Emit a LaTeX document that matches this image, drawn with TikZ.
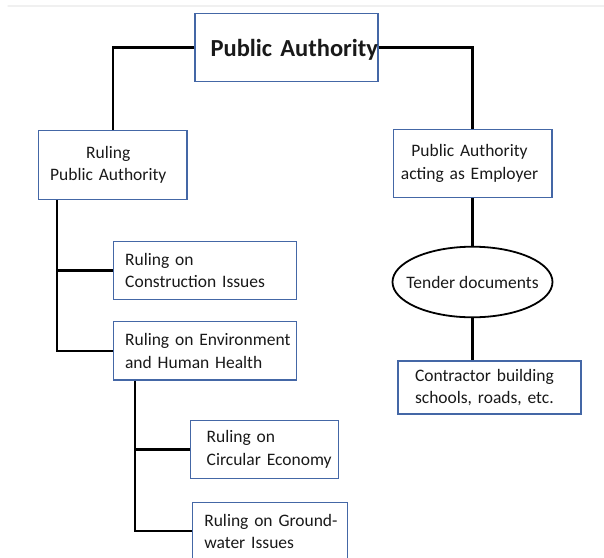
\documentclass[tikz,border=0pt]{standalone}
\usepackage{fontspec}
\setmainfont{Carlito}
\usetikzlibrary{shapes.geometric, calc, positioning}
\definecolor{boxblue}{RGB}{68,103,166}

\begin{document}
\begin{tikzpicture}[x=1pt,y=-1pt,line cap=round,
        box/.style={draw=boxblue,line width=1.4pt,inner ysep=0pt,text=black!90,
                    font=\fontsize{17.5}{22.5}\selectfont},
        lbox/.style n args={2}{box,align=left,inner xsep=0pt,text width=#1,
                    execute at begin node={\leftskip=#2\relax}},
        cbox/.style={box,align=center,inner xsep=0pt,
                    execute at begin node={\advance\rightskip by #1\relax}},
        link/.style={draw=black,line width=2.2pt,line cap=butt}]

                \useasboundingbox (0,0) rectangle (604,557);
                \draw[gray!12,line width=1.5pt] (8,6) -- (604,6);

                \node[box,inner xsep=0pt,text width=183pt,minimum height=68pt,align=right,text depth=0pt,
                      font=\fontsize{24.5}{28}\bfseries] (pa) at (286.5,47.5) {Public Authority};

                \node[cbox=9pt,text width=148.5pt,minimum height=68.6pt] (rpa) at (112.75,165) {Ruling\\Public Authority};
                \node[cbox=6pt,text width=158.6pt,minimum height=68.4pt] (emp) at (472.5,163.5) {Public Authority\\acting as Employer};

                \node[lbox={183pt}{11.6pt},minimum height=57.6pt] (con) at (205.1,270.5) {Ruling on\\Construction Issues};
                \node[lbox={183pt}{11.5pt},minimum height=58.3pt] (env) at (205.1,350.85) {Ruling on Environment\\and Human Health};

                \node[lbox={148pt}{16pt},minimum height=57.6pt] (cir) at (264.7,449.5) {Ruling on\\Circular Economy};
                \node[lbox={154.6pt}{11.6pt},minimum height=58pt] (gnd) at (270,531.3) {Ruling on Ground-\\water Issues};

                \node[ellipse,draw=black,line width=1.8pt,inner xsep=-11pt,inner ysep=0pt,minimum width=160pt,minimum height=70.6pt,
                      font=\fontsize{17.5}{22.5}\selectfont,text=black!90] (ten) at (472.5,282) {Tender documents};
                \node[lbox={183pt}{17pt},minimum height=53pt] (ctr) at (489.5,387.5) {Contractor building\\schools, roads, etc.};

                \coordinate (rbr) at ([xshift=19.3pt]rpa.south west);
                \coordinate (ebr) at ([xshift=22.4pt]env.south west);

                \draw[link] (pa.west) -| (rpa.north);
                \draw[link] (pa.east) -| (emp.north);
                \draw[link] (rbr) |- (env.west);
                \draw[link] (con.west) -- (con.west -| rbr);
                \draw[link] (ebr) |- (gnd.west);
                \draw[link] (cir.west) -- (cir.west -| ebr);
                \draw[link] (emp.south) -- (ten.north);
                \draw[link] (ten.south) -- (ten.south |- ctr.north);
            \end{tikzpicture}
\end{document}
